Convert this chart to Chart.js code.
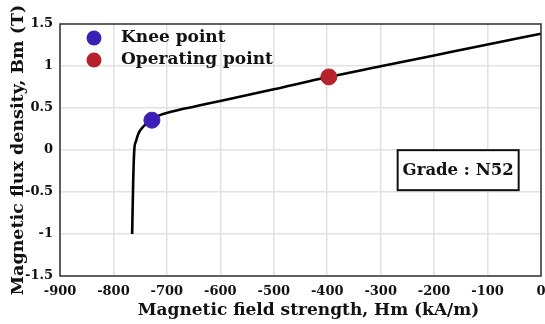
<!DOCTYPE html>
<html>
<head>
<meta charset="utf-8">
<script src="https://cdn.jsdelivr.net/npm/chart.js@4/dist/chart.umd.min.js"></script>
<style>
  html, body { margin: 0; padding: 0; background: #ffffff; overflow: hidden; }
  canvas { display: block; }
</style>
</head>
<body>
<canvas id="bh" width="545" height="324"></canvas>
<script>
// Demagnetization curve of an N52 magnet (H in kA/m, B in T)
const curveH = [-765, -763, -761, -758, -753, -744, -732, -713, -690, -669, -640, -600, -500, -400, -300, -200, -100, 0];
const curveB = [-1.0, -0.36, 0.0, 0.1, 0.2, 0.28, 0.35, 0.415, 0.458, 0.49, 0.53, 0.583, 0.722, 0.866, 0.996, 1.126, 1.256, 1.385];

const kneeH = [-728];
const kneeB = [0.355];
const opH = [-397];
const opB = [0.87];

const xTicks = [-900, -800, -700, -600, -500, -400, -300, -200, -100, 0];
const yTicks = [-1.5, -1, -0.5, 0, 0.5, 1, 1.5];

const xTitle = 'Magnetic field strength, Hm (kA/m)';
const yTitle = 'Magnetic flux density, Bm (T)';
const gradeLabel = 'Grade : N52';
const FONT = '"DejaVu Serif", serif';

const toPts = (xs, ys) => xs.map((x, i) => ({ x: x, y: ys[i] }));

// In-plot legend for the two marked points
const pointLegend = {
  id: 'pointLegend',
  afterDatasetsDraw(chart) {
    const ctx = chart.ctx;
    const area = chart.chartArea;
    const items = chart.data.datasets.filter(d => d.inLegend);
    ctx.save();
    ctx.font = 'bold 17px ' + FONT;
    ctx.textBaseline = 'middle';
    ctx.textAlign = 'left';
    items.forEach((d, i) => {
      const cy = area.top + 14 + i * 22;
      const cx = area.left + 34;
      ctx.beginPath();
      ctx.arc(cx, cy, 7.5, 0, Math.PI * 2);
      ctx.fillStyle = d.backgroundColor;
      ctx.fill();
      ctx.fillStyle = '#111111';
      ctx.fillText(d.label, cx + 27, cy);
    });
    ctx.restore();
  }
};

// Boxed grade label on the right side of the plot
const gradeBox = {
  id: 'gradeBox',
  afterDatasetsDraw(chart) {
    const ctx = chart.ctx;
    const xs = chart.scales.x, ys = chart.scales.y;
    const cx = xs.getPixelForValue(-155);
    const cy = ys.getPixelForValue(-0.24);
    ctx.save();
    ctx.font = 'bold 16.5px ' + FONT;
    const w = 121, h = 40;
    ctx.fillStyle = '#ffffff';
    ctx.fillRect(cx - w / 2, cy - h / 2, w, h);
    ctx.lineWidth = 2;
    ctx.strokeStyle = '#111111';
    ctx.strokeRect(cx - w / 2, cy - h / 2, w, h);
    ctx.fillStyle = '#111111';
    ctx.textAlign = 'center';
    ctx.textBaseline = 'middle';
    ctx.fillText(gradeLabel, cx, cy + 1);
    ctx.restore();
  }
};

// Frame around the plotting area and the horizontal axis title
const frame = {
  id: 'frame',
  afterDraw(chart) {
    const a = chart.chartArea, ctx = chart.ctx;
    ctx.save();
    ctx.lineWidth = 1.5;
    ctx.strokeStyle = '#333333';
    ctx.strokeRect(a.left, a.top, a.right - a.left, a.bottom - a.top);
    ctx.font = 'bold 17px ' + FONT;
    ctx.fillStyle = '#111111';
    ctx.textAlign = 'center';
    ctx.textBaseline = 'alphabetic';
    ctx.fillText(xTitle, (a.left + a.right) / 2 + 8, chart.height - 9);
    ctx.restore();
  }
};

new Chart(document.getElementById('bh'), {
  type: 'scatter',
  data: {
    datasets: [
      {
        label: 'Knee point',
        inLegend: true,
        data: toPts(kneeH, kneeB),
        backgroundColor: '#3a20b6',
        borderColor: '#3a20b6',
        pointRadius: 8,
        pointHoverRadius: 8,
        showLine: false
      },
      {
        label: 'Operating point',
        inLegend: true,
        data: toPts(opH, opB),
        backgroundColor: '#b8222a',
        borderColor: '#b8222a',
        pointRadius: 8,
        pointHoverRadius: 8,
        showLine: false
      },
      {
        label: 'B-H curve',
        data: toPts(curveH, curveB),
        borderColor: '#000000',
        backgroundColor: '#000000',
        borderWidth: 2.6,
        pointRadius: 0,
        showLine: true,
        cubicInterpolationMode: 'monotone',
        order: 1
      }
    ]
  },
  options: {
    responsive: false,
    animation: false,
    devicePixelRatio: 1,
    layout: { autoPadding: false, padding: { top: 24, right: 4, left: 0, bottom: 0 } },
    plugins: {
      legend: { display: false },
      tooltip: { enabled: false }
    },
    scales: {
      x: {
        type: 'linear',
        min: -900,
        max: 0,
        afterBuildTicks(scale) { scale.ticks = xTicks.map(v => ({ value: v })); },
        afterFit(scale) {
          scale.height = 48;
          scale.paddingLeft = 0;
          scale.paddingRight = 0;
        },
        grid: { color: '#e2e2e2', lineWidth: 1.5, drawTicks: false },
        border: { display: false },
        ticks: {
          color: '#111111',
          font: { family: FONT, size: 13, weight: 'bold' },
          padding: 8,
          maxRotation: 0,
          autoSkip: false,
          callback: v => String(v)
        },
        title: { display: false }
      },
      y: {
        type: 'linear',
        min: -1.5,
        max: 1.5,
        afterBuildTicks(scale) { scale.ticks = yTicks.map(v => ({ value: v })); },
        afterFit(scale) {
          scale.width = 60;
          scale.paddingTop = 0;
          scale.paddingBottom = 0;
        },
        grid: { color: '#e2e2e2', lineWidth: 1.5, drawTicks: false },
        border: { display: false },
        ticks: {
          color: '#111111',
          font: { family: FONT, size: 13, weight: 'bold' },
          padding: 7,
          autoSkip: false,
          callback: v => String(v)
        },
        title: {
          display: true,
          text: yTitle,
          color: '#111111',
          font: { family: FONT, size: 17.5, weight: 'bold' },
          padding: { top: 7.5, bottom: 0 }
        }
      }
    }
  },
  plugins: [pointLegend, gradeBox, frame]
});
</script>
</body>
</html>
